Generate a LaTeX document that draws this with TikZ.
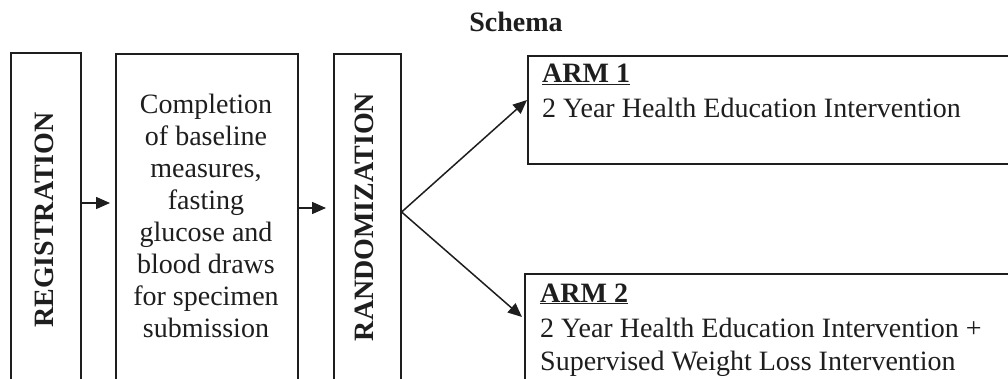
\documentclass[tikz,border=0pt]{standalone}
\usepackage{fontspec}
\setmainfont{Liberation Serif}
\usetikzlibrary{arrows.meta}
\definecolor{ink}{HTML}{1E1E1E}
\tikzset{
  box/.style={draw=ink, line width=1.6pt, rectangle, inner sep=0pt, anchor=north west},
  txt/.style={text=ink, inner sep=0pt, font=\fontsize{28}{32}\selectfont},
  btxt/.style={txt, font=\fontsize{28}{32}\selectfont\bfseries},
  arr/.style={draw=ink, line width=1.5pt, -{Triangle[length=14pt,width=12pt]}}
}
\begin{document}
\begin{tikzpicture}[x=1pt,y=-1pt]
\useasboundingbox (0,0) rectangle (1008,379);
\fill[white] (0,0) rectangle (1008,379);
\clip (0,0) rectangle (1008,379);
% title
\node[btxt, anchor=base] (title) at (516,32) {Schema};
% boxes
\node[box, minimum width=70pt, minimum height=360pt] (reg) at (10,52) {};
\node[box, minimum width=182pt, minimum height=360pt] (mid) at (115,53) {};
\node[box, minimum width=67pt, minimum height=360pt] (rand) at (333,53) {};
\node[box, minimum width=490pt, minimum height=108pt] (arm1) at (527,55) {};
\node[box, minimum width=493pt, minimum height=200pt] (arm2) at (524,273) {};
% texts
\node[btxt, rotate=90] (regt) at (44,220) {REGISTRATION};
\node[btxt, rotate=90] (randt) at (364,217) {RANDOMIZATION};
\node[txt, anchor=north, align=center] (midt) at (206,94) {Completion\\of baseline\\measures,\\fasting\\glucose and\\blood draws\\for specimen\\submission};
\node[btxt, anchor=base west] (arm1h) at (542,83) {\underline{ARM 1}};
\node[txt, anchor=base west] (arm1d) at (542,118) {2 Year Health Education Intervention};
\node[btxt, anchor=base west] (arm2h) at (540,302) {\underline{ARM 2}};
\node[txt, anchor=base west] (arm2d) at (540,337) {2 Year Health Education Intervention +};
\node[txt, anchor=base west] (arm2e) at (540,370) {Supervised Weight Loss Intervention};
% connectors
\coordinate (y1) at (0,203);
\coordinate (y2) at (0,208);
\coordinate (ys) at (0,212);
\coordinate (t1) at (0,100);
\coordinate (t2) at (0,317);
\coordinate (split) at (rand.east |- ys);
\draw[arr] (reg.east |- y1) -- ([xshift=-5pt]mid.west |- y1);
\draw[arr] (mid.east |- y2) -- ([xshift=-7pt]rand.west |- y2);
\draw[arr] (split) -- (arm1.west |- t1);
\draw[arr] (split) -- ([xshift=-2pt]arm2.west |- t2);
\end{tikzpicture}
\end{document}
